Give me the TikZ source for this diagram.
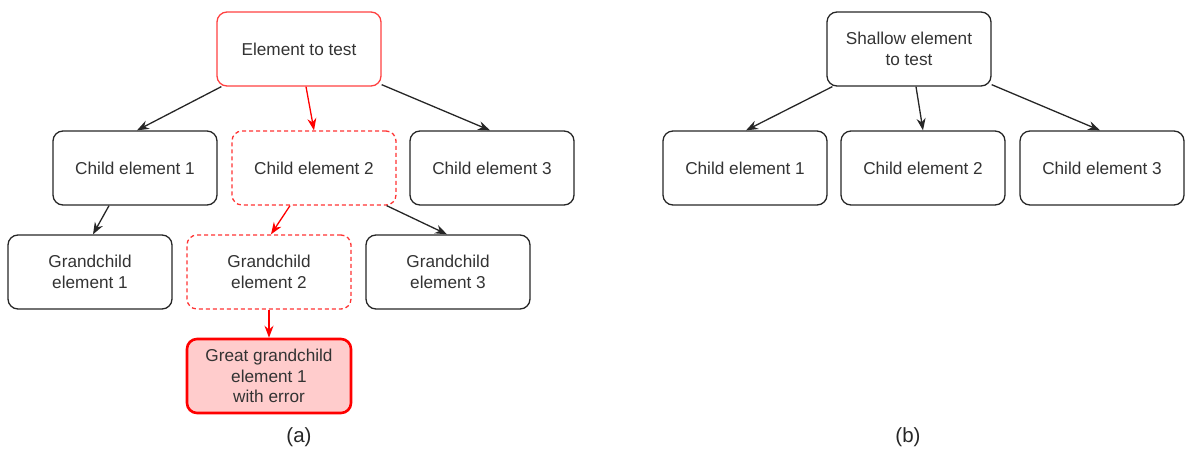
\documentclass[tikz,border=0pt]{standalone}
\usepackage{fontspec}
\setmainfont{Liberation Sans}
\usetikzlibrary{arrows.meta,%
                shapes,positioning}
\definecolor{errfill}{HTML}{FFCCCC}
\definecolor{errline}{HTML}{FF0000}
\definecolor{dashline}{HTML}{FF3333}

\begin{document}
\begin{tikzpicture}[x=1pt,y=-1pt,
  elem/.style={draw=black!85,line width=1.3pt,rounded corners=10pt,
    minimum width=164pt,minimum height=74pt,align=center,
    text=black!80,font=\fontsize{17.2}{20.5}\selectfont},
  testelem/.style={elem,draw=errline!75},
  pathelem/.style={elem,draw=dashline,dash pattern=on 4pt off 3pt},
  errelem/.style={elem,draw=errline,fill=errfill,line width=2.6pt},
  arr/.style={-{Stealth[length=12pt,width=9pt]},line width=1.3pt,black!85},
  errarr/.style={arr,errline},
  caption/.style={font=\fontsize{20.5}{24}\selectfont,text=black!85}]
\useasboundingbox (0,0) rectangle (1186,455);
% (a) deep test
\node[testelem] (elem) at (299,49) {Element to test};
\node[elem] (child1) at (135,168) {Child element 1};
\node[pathelem] (child2) at (314,168) {Child element 2};
\node[elem] (child3) at (492,168) {Child element 3};
\node[elem] (grand1) at (90,272) {Grandchild\\element 1};
\node[pathelem] (grand2) at (269,272) {Grandchild\\element 2};
\node[elem] (grand3) at (448,272) {Grandchild\\element 3};
\node[errelem] (great1) at (269,376) {Great grandchild\\element 1\\with error};
\draw[arr] ([xshift=5pt]elem.south west) -- ([xshift=2pt]child1.north);
\draw[errarr] ([xshift=7pt]elem.south) -- (child2.north);
\draw[arr] ([yshift=2pt]elem.south east) -- ([xshift=-2pt]child3.north);
\draw[arr] ([xshift=-26pt]child1.south) -- ([xshift=3pt]grand1.north);
\draw[errarr] ([xshift=-24pt]child2.south) -- ([xshift=2pt]grand2.north);
\draw[arr] ([xshift=-10pt]child2.south east) -- ([xshift=-1pt]grand3.north);
\draw[errarr] (grand2.south) -- (great1.north);
\node[caption] (capa) at (299,437) {(a)};
% (b) shallow test
\node[elem] (shallow) at (909,49) {Shallow element\\to test};
\node[elem] (schild1) at (745,168) {Child element 1};
\node[elem] (schild2) at (923,168) {Child element 2};
\node[elem] (schild3) at (1102,168) {Child element 3};
\draw[arr] ([xshift=6pt]shallow.south west) -- ([xshift=1pt]schild1.north);
\draw[arr] ([xshift=7pt]shallow.south) -- (schild2.north);
\draw[arr] ([yshift=2pt]shallow.south east) -- ([xshift=-2pt]schild3.north);
\node[caption] (capb) at (908,437) {(b)};
\end{tikzpicture}
\end{document}
